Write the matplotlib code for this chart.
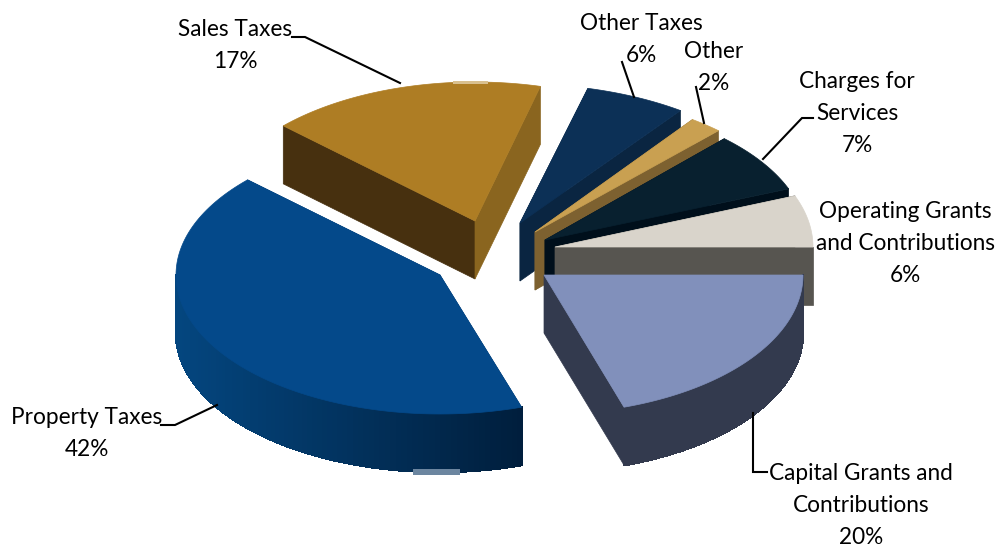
import numpy as np
import matplotlib
matplotlib.use("Agg")
import matplotlib.pyplot as plt
from matplotlib.collections import PolyCollection
from matplotlib.colors import to_rgb

plt.rcParams['font.family'] = ['Lato', 'DejaVu Sans']

# Revenue sources, clockwise from the right-hand side of the pie
categories = ["Capital Grants and\nContributions", "Property Taxes", "Sales Taxes",
              "Other Taxes", "Other", "Charges for\nServices",
              "Operating Grants\nand Contributions"]
shares = [20, 42, 17, 6, 2, 7, 6]

# Exploded slice geometry in figure pixels: apex x, apex y, horizontal radius
apex_x = [544, 440, 475, 520, 535, 545, 555]
apex_y = [275, 275, 221, 223, 232, 240, 247]
radius_x = [259, 264, 263, 273, 268, 262, 258]
RADIUS_Y = 139
DEPTH = 58

top_colors = ["#8190BB", "#04498A", "#AE7D24", "#0C3056", "#C9A051", "#08202F", "#D9D4CB"]
start_wall = ["#333A4E", "#04376A", "#47300F", "#0A2541", "#7D6130", "#000F1B", "#575550"]
end_wall = ["#333A4E", "#04376A", "#8A651F", "#0A2541", "#7D6130", "#000F1B", "#575550"]
arc_left = ["#333A4E", "#04467F", "#47300F", "#0A2541", "#7D6130", "#000F1B", "#575550"]
arc_right = ["#333A4E", "#001E3C", "#47300F", "#0A2541", "#7D6130", "#000F1B", "#575550"]

# Back-to-front paint order so nearer slices cover farther ones
paint_order = [2, 3, 4, 5, 6, 0, 1]

# Label centres and leader lines, in figure pixels
label_pos = [(861, 503), (87, 432), (235, 43), (641, 37), (714, 65), (857, 112), (905, 241)]
LINE_PITCH = 32
leaders = [
    [(753, 413), (753, 472), (767, 472)],
    [(161, 425), (175, 425), (217, 405)],
    [(292, 37), (305, 37), (400, 83)],
    [(622, 62), (634, 97)],
    [(696, 87), (704, 123)],
    [(763, 159), (802, 118), (813, 118)],
]

fig = plt.figure(figsize=(10.01, 5.48), dpi=100, facecolor="white")
ax = fig.add_axes([0, 0, 1, 1])
ax.set_xlim(0, 1001)
ax.set_ylim(548, 0)
ax.axis("off")

edges = np.cumsum([0] + shares) / sum(shares) * 360.0


def rim(i, deg):
    rad = np.radians(deg)
    return (apex_x[i] + radius_x[i] * np.cos(rad), apex_y[i] + RADIUS_Y * np.sin(rad))


def cut_wall(i, deg, colour, z):
    x, y = rim(i, deg)
    a = (apex_x[i], apex_y[i])
    ax.fill([a[0], x, x, a[0]], [a[1], y, y + DEPTH, a[1] + DEPTH],
            color=colour, lw=0.5, zorder=z)


for z, i in enumerate(paint_order):
    t0, t1 = edges[i], edges[i + 1]
    base = 10 * z
    cut_wall(i, t0, start_wall[i], base)
    cut_wall(i, t1, end_wall[i], base + 1)

    # Outer rim: only the part facing the viewer (0-180 degrees) is seen
    lo, hi = max(t0, 0), min(t1, 180)
    if hi > lo:
        ts = np.linspace(lo, hi, 90)
        xs, ys = rim(i, ts)
        quads = [[(xs[k], ys[k]), (xs[k + 1], ys[k + 1]),
                  (xs[k + 1], ys[k + 1] + DEPTH), (xs[k], ys[k] + DEPTH)]
                 for k in range(len(ts) - 1)]
        left, right = np.array(to_rgb(arc_left[i])), np.array(to_rgb(arc_right[i]))
        span = xs.max() - xs.min()
        fracs = (0.5 * (xs[:-1] + xs[1:]) - xs.min()) / span
        colours = [tuple(left + (right - left) * f) for f in fracs]
        # Aliased cells keep the shading free of seams between neighbouring quads
        ax.add_collection(PolyCollection(quads, facecolors=colours, edgecolors=colours,
                                         linewidths=1.0, antialiaseds=False,
                                         zorder=base + 2))

    ts = np.linspace(t0, t1, 120)
    xs, ys = rim(i, ts)
    ax.fill(np.r_[apex_x[i], xs], np.r_[apex_y[i], ys], color=top_colors[i],
            lw=0.5, zorder=base + 3)

# Pale specks along the rims of the sales and property slices
ax.fill([453, 488, 488, 453], [81, 81, 84, 84], color="#D9C08F", lw=0, zorder=5)
ax.fill([413, 460, 460, 413], [469, 469, 475, 475], color="#6C86A0", lw=0, zorder=95)

for path in leaders:
    ax.plot(*zip(*path), color="black", lw=1.5, solid_joinstyle="miter", zorder=100)

# Each label line is its own text so the close Other / Other Taxes labels stay clear
for name, share, (x, y) in zip(categories, shares, label_pos):
    lines = name.split("\n") + [f"{share}%"]
    first = y - LINE_PITCH * (len(lines) - 1) / 2
    for n, line in enumerate(lines):
        ax.text(x, first + n * LINE_PITCH, line, ha="center", va="center_baseline",
                fontsize=16.3, color="black", zorder=110)

fig.savefig("out.png", dpi=100)
